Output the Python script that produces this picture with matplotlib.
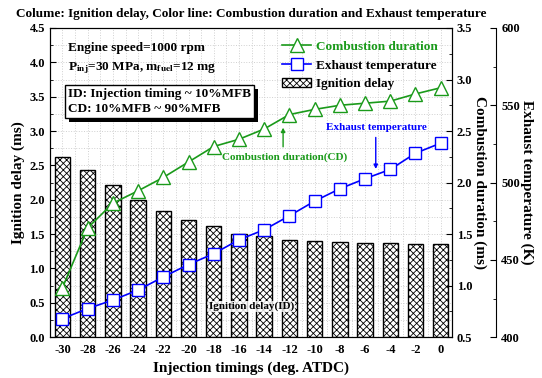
import matplotlib
matplotlib.use('Agg')
import matplotlib.pyplot as plt
import matplotlib.patheffects as pe
from matplotlib.ticker import MultipleLocator

plt.rcParams['font.family'] = ['Liberation Serif', 'DejaVu Serif']
plt.rcParams['font.weight'] = 'bold'
plt.rcParams['hatch.linewidth'] = 0.6
plt.rcParams['axes.unicode_minus'] = False
plt.rcParams['mathtext.fontset'] = 'stix'

# data
timing = [-30, -28, -26, -24, -22, -20, -18, -16, -14, -12, -10, -8, -6, -4, -2, 0]
ign_delay = [2.62, 2.43, 2.21, 1.99, 1.84, 1.71, 1.62, 1.50, 1.47, 1.42, 1.40, 1.38, 1.37, 1.365, 1.35, 1.355]
comb_dur = [0.98, 1.56, 1.80, 1.92, 2.05, 2.20, 2.35, 2.42, 2.52, 2.66, 2.71, 2.75, 2.77, 2.79, 2.86, 2.92]
exh_temp = [412, 418.5, 424, 430.5, 439, 447, 454, 463, 469.5, 478.5, 488, 496, 502.5, 508.5, 519, 525.5]

green = '#1a9a1a'
blue = '#0000ff'

fig = plt.figure(figsize=(5.42, 3.78), dpi=100)
ax = fig.add_axes([0.092, 0.108, 0.742, 0.818])

# Ignition delay bars
bars = ax.bar(timing, ign_delay, width=1.22, color='white', edgecolor='black',
              hatch='xxxxx', linewidth=1.0, label='Ignition delay', zorder=2)
ax.set_xlim(-31.0, 0.9)
ax.set_ylim(0, 4.5)
ax.set_xticks(timing)
ax.xaxis.set_minor_locator(MultipleLocator(1))
ax.yaxis.set_major_locator(MultipleLocator(0.5))
ax.yaxis.set_minor_locator(MultipleLocator(0.25))
ax.tick_params(axis='y', which='both', direction='in', labelsize=9)
ax.tick_params(axis='y', which='major', length=4)
ax.tick_params(axis='y', which='minor', length=2)
ax.tick_params(axis='x', which='both', length=0, labelsize=9, pad=5)
ax.grid(True, which='both', linestyle=':', color='#d0d0d0', linewidth=0.7, zorder=0)
ax.set_axisbelow(True)
ax.set_xlabel('Injection timings (deg. ATDC)', fontsize=11, fontweight='bold')
ax.set_ylabel('Ignition delay (ms)', fontsize=11, fontweight='bold', labelpad=3)
ax.set_title('Colume: Ignition delay, Color line: Combustion duration and Exhaust temperature',
             fontsize=9.5, fontweight='bold', pad=8)

# Combustion duration
ax2 = ax.twinx()
l1, = ax2.plot(timing, comb_dur, color=green, marker='^', markersize=9.5,
               markerfacecolor='white', markeredgecolor=green, linewidth=1.2,
               label='Combustion duration', zorder=3)
ax2.set_ylim(0.5, 3.5)
ax2.yaxis.set_major_locator(MultipleLocator(0.5))
ax2.yaxis.set_minor_locator(MultipleLocator(0.25))
ax2.tick_params(axis='y', which='both', direction='in', labelsize=9)
ax2.tick_params(axis='y', which='major', length=4)
ax2.tick_params(axis='y', which='minor', length=2)
ax2.set_ylabel('Combustion duration (ms)', fontsize=11, fontweight='bold', rotation=270, labelpad=10)

# Exhaust temperature
ax3 = ax.twinx()
ax3.spines['right'].set_position(('axes', 1.11))
for s in ['top', 'left', 'bottom']:
    ax3.spines[s].set_visible(False)
l2, = ax3.plot(timing, exh_temp, color=blue, marker='s', markersize=8,
               markerfacecolor='white', markeredgecolor=blue, linewidth=1.2,
               label='Exhaust temperature', zorder=3)
ax3.set_ylim(400, 600)
ax3.yaxis.set_major_locator(MultipleLocator(50))
ax3.yaxis.set_minor_locator(MultipleLocator(25))
ax3.tick_params(axis='y', which='both', direction='in', labelsize=9)
ax3.tick_params(axis='y', which='major', length=4)
ax3.tick_params(axis='y', which='minor', length=2)
ax3.set_ylabel('Exhaust temperature (K)', fontsize=11, fontweight='bold', rotation=270, labelpad=10)

for a in (ax, ax2, ax3):
    for lab in a.get_yticklabels() + a.get_xticklabels():
        lab.set_fontweight('bold')

leg = ax3.legend([l1, l2, bars], ['Combustion duration', 'Exhaust temperature', 'Ignition delay'],
                 loc='upper right', bbox_to_anchor=(0.985, 0.985), frameon=False,
                 fontsize=9.5, handlelength=2.2, handletextpad=0.4, labelspacing=0.5,
                 borderaxespad=0.2)
leg.get_texts()[0].set_color(green)

# text annotations
ax.text(0.045, 0.955, 'Engine speed=1000 rpm', transform=ax.transAxes, fontsize=9.5,
        fontweight='bold', va='top')
ax.text(0.045, 0.895, r'P$_{\mathbf{inj}}$=30 MPa, m$_{\mathbf{fuel}}$=12 mg', transform=ax.transAxes,
        fontsize=9.5, fontweight='bold', va='top')
box = ax.text(0.045, 0.805, 'ID: Injection timing ~ 10%MFB\nCD: 10%MFB ~ 90%MFB', transform=ax.transAxes,
              fontsize=9.5, fontweight='bold', va='top', linespacing=1.25,
              bbox=dict(boxstyle='square,pad=0.25', facecolor='white', edgecolor='black', linewidth=1.0),
              zorder=5)
box.get_bbox_patch().set_path_effects([
    pe.SimplePatchShadow(offset=(3, -3), shadow_rgbFace='black', alpha=1.0), pe.Normal()])

ax2.annotate('', xy=(-12.5, 2.56), xytext=(-12.5, 2.32),
             arrowprops=dict(arrowstyle='-|>', color=green, lw=1.0, mutation_scale=6))
ax2.text(-12.4, 2.29, 'Combustion duration(CD)', color=green, fontsize=8, fontweight='bold',
         ha='center', va='top')
ax3.annotate('', xy=(-5.15, 507), xytext=(-5.15, 531),
             arrowprops=dict(arrowstyle='-|>', color=blue, lw=1.0, mutation_scale=6))
ax3.text(-5.1, 533, 'Exhaust temperature', color=blue, fontsize=8, fontweight='bold',
         ha='center', va='bottom')
ax.text(-15.0, 0.45, 'Ignition delay(ID)', color='black', fontsize=8, fontweight='bold',
        ha='center', va='center', zorder=6,
        bbox=dict(boxstyle='square,pad=0.05', facecolor='white', edgecolor='none', alpha=0.8))

fig.savefig('out.png', dpi=100)
